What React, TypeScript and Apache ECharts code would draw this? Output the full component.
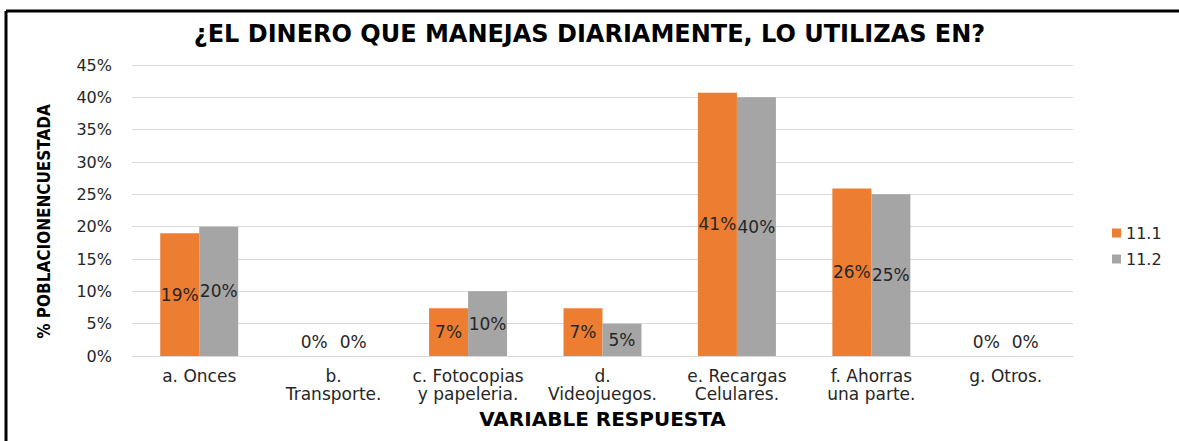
import React, { useEffect, useRef } from "react";
import * as echarts from "echarts";

const categories = [
  "a. Onces",
  "b.\nTransporte.",
  "c. Fotocopias\ny papeleria.",
  "d.\nVideojuegos.",
  "e. Recargas\nCelulares.",
  "f. Ahorras\nuna parte.",
  "g. Otros.",
];
const series111 = [19, 0, 7.4, 7.4, 40.7, 25.9, 0];
const series112 = [20, 0, 10, 5, 40, 25, 0];
const seriesNames = ["11.1", "11.2"];
const yTicks = [0, 5, 10, 15, 20, 25, 30, 35, 40, 45];

const FONT = "DejaVu Sans, Liberation Sans, Arial, sans-serif";

function toData(values: number[]) {
  return values.map((v) =>
    v === 0
      ? { value: v, label: { position: "top", distance: 6 } }
      : { value: v }
  );
}

export default function App() {
  const ref = useRef<HTMLDivElement>(null);
  useEffect(() => {
    if (!ref.current) return;
    const chart = echarts.init(ref.current, null, { renderer: "svg" });
    const labelCfg = {
      show: true,
      position: "inside",
      color: "#262626",
      fontFamily: FONT,
      fontSize: 17,
      formatter: (p: any) => Math.round(p.value) + "%",
    };
    chart.setOption({
      animation: false,
      backgroundColor: "#ffffff",
      title: {
        text: "¿EL DINERO QUE MANEJAS DIARIAMENTE, LO UTILIZAS EN?",
        left: "center",
        top: 17,
        textStyle: {
          fontFamily: FONT,
          fontWeight: "bold",
          fontSize: 24,
          color: "#000000",
        },
      },
      legend: {
        orient: "vertical",
        left: 1107,
        top: 220,
        itemWidth: 9,
        itemHeight: 9,
        itemGap: 10,
        icon: "rect",
        data: seriesNames,
        textStyle: { fontFamily: FONT, fontSize: 16, color: "#262626" },
      },
      graphic: [
        {
          type: "line",
          shape: { x1: 6, y1: 11, x2: 1179, y2: 11 },
          style: { stroke: "#000", lineWidth: 3 },
        },
        {
          type: "line",
          shape: { x1: 6, y1: 11, x2: 6, y2: 441 },
          style: { stroke: "#000", lineWidth: 3 },
        },
      ],
      grid: { left: 132, right: 106, top: 65, bottom: 85 },
      xAxis: {
        type: "category",
        data: categories,
        name: "VARIABLE RESPUESTA",
        nameLocation: "middle",
        nameGap: 53,
        nameTextStyle: {
          fontFamily: FONT,
          fontWeight: "bold",
          fontSize: 20,
          color: "#000",
        },
        axisLine: { lineStyle: { color: "#D9D9D9" } },
        axisTick: { show: false },
        axisLabel: {
          interval: 0,
          margin: 11,
          fontFamily: FONT,
          fontSize: 17,
          lineHeight: 18,
          color: "#262626",
        },
      },
      yAxis: {
        type: "value",
        min: yTicks[0],
        max: yTicks[yTicks.length - 1],
        interval: 5,
        name: "% POBLACIONENCUESTADA",
        nameLocation: "middle",
        nameGap: 80,
        nameTextStyle: {
          fontFamily: "Liberation Sans Narrow, DejaVu Sans Condensed, Arial Narrow, DejaVu Sans, sans-serif",
          fontWeight: "bold",
          fontSize: 17,
          color: "#000",
          padding: [0, 22, 0, 0],
        },
        axisLabel: {
          margin: 20,
          fontFamily: FONT,
          fontSize: 16,
          color: "#262626",
          formatter: "{value}%",
        },
        splitLine: { lineStyle: { color: "#D9D9D9" } },
      },
      series: [
        {
          name: seriesNames[0],
          type: "bar",
          data: toData(series111),
          itemStyle: { color: "#ED7D31" },
          barGap: "0%",
          barCategoryGap: "42%",
          label: labelCfg,
        },
        {
          name: seriesNames[1],
          type: "bar",
          data: toData(series112),
          itemStyle: { color: "#A5A5A5" },
          barGap: "0%",
          barCategoryGap: "42%",
          label: labelCfg,
        },
      ],
    });
    return () => chart.dispose();
  }, []);
  return (
    <div
      ref={ref}
      style={{ position: "fixed", left: 0, top: 0, width: 1179, height: 441 }}
    />
  );
}
